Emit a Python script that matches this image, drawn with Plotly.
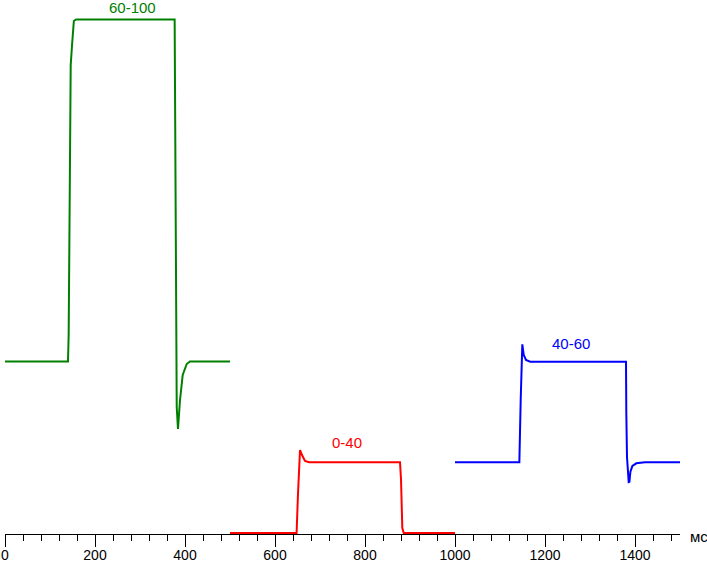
import plotly.graph_objects as go

# Time (ms) and response values
green_t = [0, 140, 141.5, 146, 149, 151, 153, 158, 377, 381.6, 384.4, 388.9, 394.9, 403.8, 411, 500]
green_v = [172.5, 172.5, 200, 469, 489, 509, 513, 514.5, 514.5, 127, 105, 134, 159, 170, 172.5, 172.5]

red_t = [500, 648, 651, 653.3, 655.6, 660, 666.7, 675.6, 877.8, 880, 881.6, 882.9, 886, 1000]
red_v = [1, 1, 39, 71, 84, 79, 73, 71.7, 71.7, 55, 21, 6, 1, 1]

blue_t = [1000, 1143, 1146, 1149.6, 1152.7, 1157.8, 1167, 1380, 1380.7, 1382.2, 1386, 1387.6,
          1389.8, 1394.2, 1403, 1422, 1500]
blue_v = [71.7, 71.7, 134, 189.7, 179, 174, 172.3, 172.3, 121, 77, 52, 52.3,
          62.3, 68, 70.7, 71.7, 71.7]

series_names = ["60-100", "0-40", "40-60"]
series_colors = ["#008000", "#ff0000", "#0000ff"]
label_x = [284, 759, 1258]
label_y = [527, 92, 191]

tick_vals = [0, 200, 400, 600, 800, 1000, 1200, 1400]
tick_text = ["0", "200", "400", "600", "800", "1000", "1200", "1400"]
unit_label = "мс"

fig = go.Figure()
for t, v, name, col in zip([green_t, red_t, blue_t], [green_v, red_v, blue_v], series_names, series_colors):
    fig.add_trace(go.Scatter(x=t, y=v, mode="lines", name=name,
                             line=dict(color=col, width=2), showlegend=False,
                             hoverinfo="skip"))

for name, col, lx, ly in zip(series_names, series_colors, label_x, label_y):
    fig.add_annotation(x=lx, y=ly, xref="x", yref="y", text=name, showarrow=False,
                       font=dict(family="Arial, Liberation Sans", size=15, color=col),
                       xanchor="center", yanchor="middle")

fig.add_annotation(x=1, y=0, xref="paper", yref="paper", text=unit_label, showarrow=False,
                   font=dict(family="Arial, Liberation Sans", size=15, color="black"),
                   xanchor="left", yanchor="middle", xshift=8, yshift=-2)

fig.update_layout(
    width=707, height=562,
    margin=dict(l=5, r=27, t=0, b=28, autoexpand=False),
    paper_bgcolor="white", plot_bgcolor="white",
    font=dict(family="Arial, Liberation Sans", size=14, color="black"),
    xaxis=dict(range=[0, 1500], showgrid=False, zeroline=False, automargin=False,
               showline=True, linecolor="black", linewidth=1,
               ticks="outside", ticklen=12, tickwidth=1, tickcolor="black",
               tickvals=tick_vals, ticktext=tick_text,
               ticklabelstandoff=-4,
               tickfont=dict(size=14, color="black"),
               minor=dict(dtick=40, tick0=0, ticks="outside", ticklen=6,
                          tickwidth=1, tickcolor="black", showgrid=False)),
    yaxis=dict(range=[0, 534], visible=False, showgrid=False, zeroline=False,
               automargin=False),
)

fig.write_html("out.html", config={"displayModeBar": False},
               post_script="document.body.style.margin='0';document.body.style.padding='0';")
